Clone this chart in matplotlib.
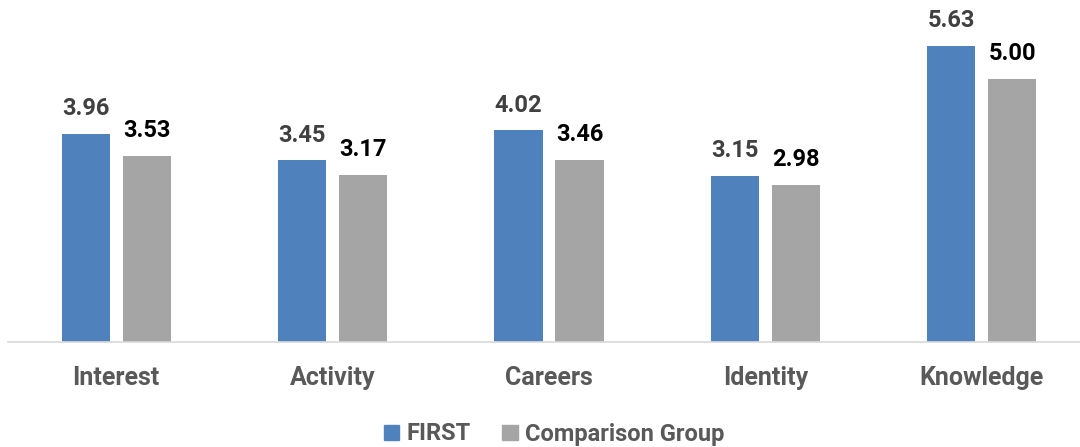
import numpy as np
import matplotlib.pyplot as plt
from matplotlib.patches import Patch

plt.rcParams['font.family'] = ['Roboto', 'DejaVu Sans']

categories = ['Interest', 'Activity', 'Careers', 'Identity', 'Knowledge']
first = [3.96, 3.45, 4.02, 3.15, 5.63]
comparison = [3.53, 3.17, 3.46, 2.98, 5.00]

blue = '#4F81BD'
gray = '#A5A5A5'

fig = plt.figure(figsize=(10.8, 4.47), dpi=100)
ax = fig.add_axes([8 / 1080, 105 / 447, 1082 / 1080, 342 / 447])

x = np.arange(len(categories))
w = 0.222
off = 0.141
b1 = ax.bar(x - off, first, w, color=blue)
b2 = ax.bar(x + off, comparison, w, color=gray)

for r, v in zip(b1, first):
    ax.annotate(f'{v:.2f}', (r.get_x() + r.get_width() / 2, v), xytext=(0, 10),
                textcoords='offset points', ha='center', va='bottom',
                fontsize=17, fontweight='bold', color='#404040')
for r, v in zip(b2, comparison):
    ax.annotate(f'{v:.2f}', (r.get_x() + r.get_width() / 2, v), xytext=(0, 10),
                textcoords='offset points', ha='center', va='bottom',
                fontsize=17, fontweight='bold', color='black')

ax.set_xlim(-0.5, 4.5)
ax.set_ylim(0, 6.5)
ax.set_xticks(x)
ax.set_xticklabels(categories, fontsize=18, fontweight='bold', color='#595959')
ax.tick_params(axis='x', length=0, pad=17)
ax.set_yticks([])
for s in ['top', 'right', 'left']:
    ax.spines[s].set_visible(False)
ax.spines['bottom'].set_color('#D9D9D9')
ax.spines['bottom'].set_linewidth(1.2)

handles = [Patch(color=blue, label='FIRST'), Patch(color=gray, label='Comparison Group')]
fig.legend(handles=handles, loc='center', bbox_to_anchor=(0.513, 13 / 447), ncol=2,
           frameon=False, prop={'size': 17, 'weight': 'bold'}, labelcolor='#595959',
           handlelength=0.65, handleheight=0.6, columnspacing=1.35, handletextpad=0.3)

fig.savefig('out.png', dpi=100)
